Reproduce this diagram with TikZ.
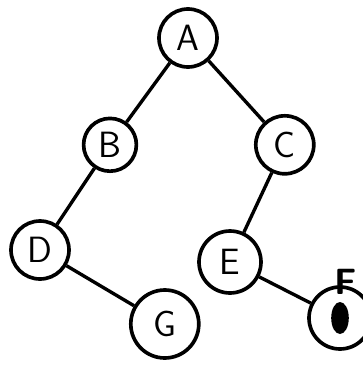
\documentclass[tikz,border=0pt]{standalone}
\usepackage{tikz}
\usetikzlibrary{positioning, calc}
\tikzset{
  vertex/.style={circle, draw=black, line width=2.6pt, minimum size=1.45cm, inner sep=0pt, font=\fontsize{26}{28}\selectfont\sffamily},
  edge/.style={line width=2.4pt}
}
\begin{document}
\begin{tikzpicture}
        \useasboundingbox (0,0) rectangle (9.075,-9.2);
        \node (A) [vertex] at (4.7,-0.95) {A};
        \node (B) [vertex, minimum size=1.32cm] at (2.75,-3.62) {B};
        \node (C) [vertex] at (7.12,-3.62) {C};
        \node (D) [vertex, minimum size=1.45cm] at (1.0,-6.25) {D};
        \node (E) [vertex, minimum size=1.55cm] at (5.75,-6.55) {E};
        \node (F) [vertex, minimum size=1.55cm] at (8.5,-7.95) {};
        \node (G) [vertex, minimum size=1.7cm] at (4.12,-8.1) {G};
        \fill [black] (F.center) ellipse (0.22cm and 0.4cm);
        \node (Flabel) [font=\fontsize{26}{28}\selectfont\sffamily\bfseries, anchor=south] at ($(F.north)+(0.15,-0.35)$) {F};

        \draw [edge] (A) -- (B);
        \draw [edge] (A) -- (C);
        \draw [edge] (B) -- (D);
        \draw [edge] (C) -- (E);
        \draw [edge] (D) -- (G);
        \draw [edge] (E) -- (F);
\end{tikzpicture}
\end{document}
